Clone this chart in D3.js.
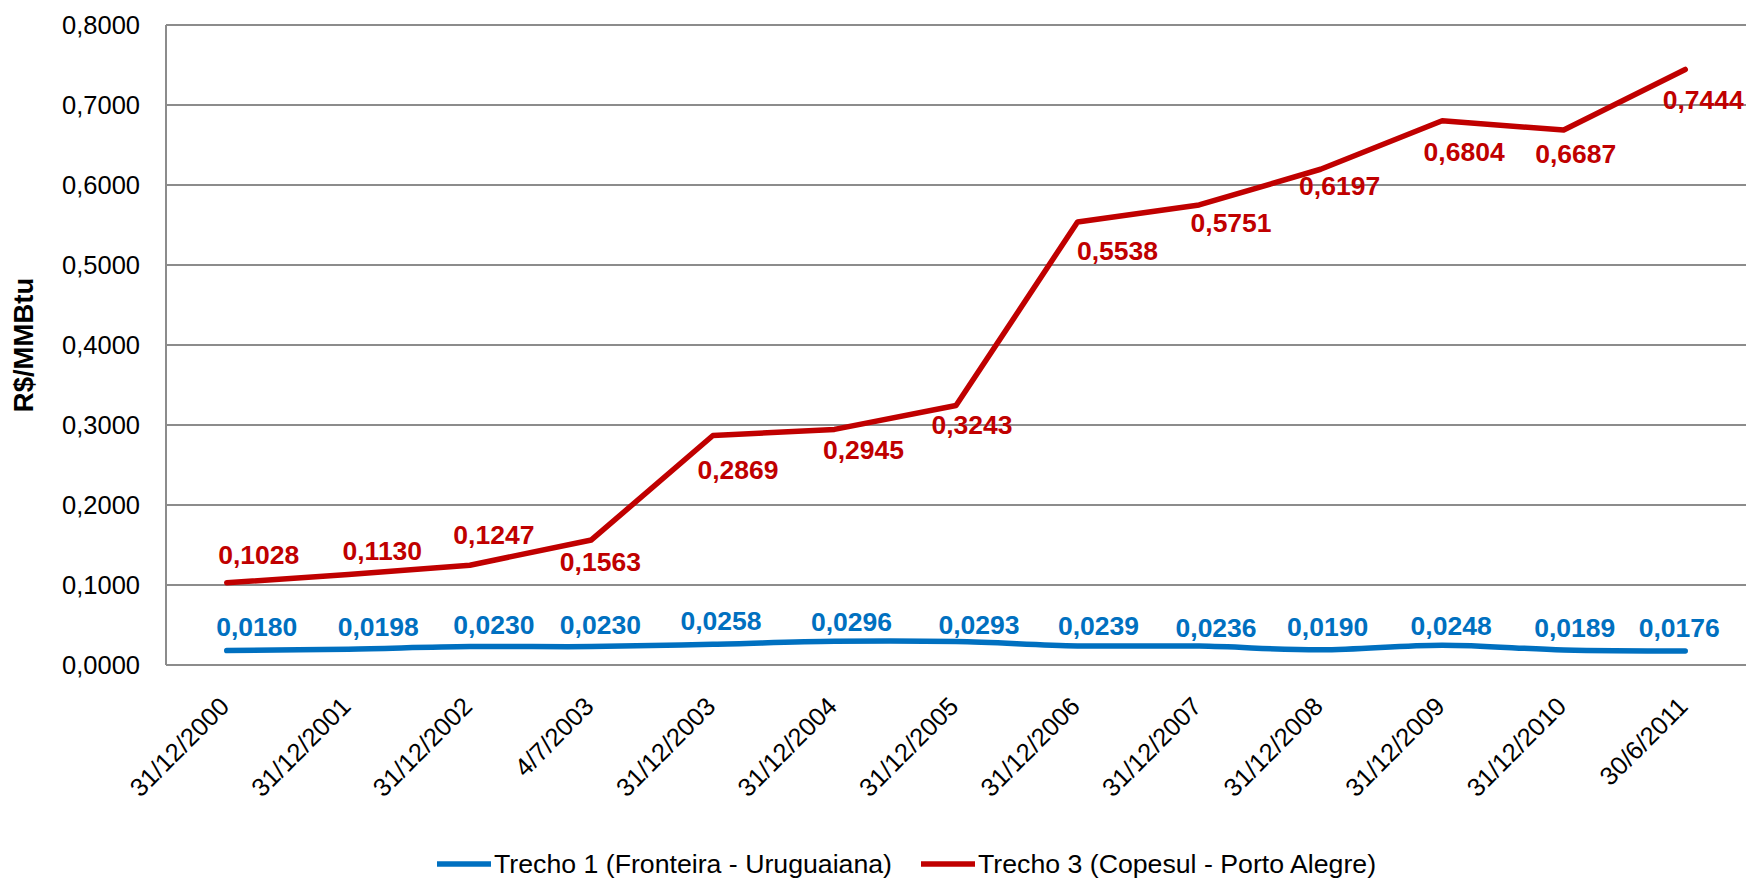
<!DOCTYPE html>
<html>
<head>
<meta charset="utf-8">
<script src="https://cdn.jsdelivr.net/npm/d3@7"></script>
<style>
  html, body { margin: 0; padding: 0; background: #fff; }
  svg { display: block; font-family: "Liberation Sans", Arial, sans-serif; }
</style>
</head>
<body>
<svg id="chart" width="1748" height="881"></svg>
<script>
// ---- data ----
const categories = ["31/12/2000","31/12/2001","31/12/2002","4/7/2003","31/12/2003","31/12/2004","31/12/2005","31/12/2006","31/12/2007","31/12/2008","31/12/2009","31/12/2010","30/6/2011"];
const trecho1 = [0.0180,0.0198,0.0230,0.0230,0.0258,0.0296,0.0293,0.0239,0.0236,0.0190,0.0248,0.0189,0.0176];
const trecho3 = [0.1028,0.1130,0.1247,0.1563,0.2869,0.2945,0.3243,0.5538,0.5751,0.6197,0.6804,0.6687,0.7444];
const yTicks = [0,0.1,0.2,0.3,0.4,0.5,0.6,0.7,0.8];
const seriesNames = ["Trecho 1 (Fronteira - Uruguaiana)","Trecho 3 (Copesul - Porto Alegre)"];
const yTitle = "R$/MMBtu";

// ---- label layout offsets (pixels, relative to point) ----
const lbl1dx = [30,30,24,9,8,17,23,21,17,7,9,11,-6];
const lbl1dy = [-15,-13,-13,-13,-14,-10,-8,-11,-9,-14,-10,-13,-14];
const lbl3dx = [32,34,24,9,25,29,16,40,32,19,22,12,18];
const lbl3dy = [-19,-15,-21,31,44,30,28,38,27,26,40,33,40];

const colors = ["#0070C0", "#C00000"];
const svg = d3.select("#chart");
const L = 166, R = 1746, T = 25, B = 665;

const x = d3.scalePoint().domain(categories).range([L, R]).padding(0.5);
const y = d3.scaleLinear().domain([0, 0.8]).range([B, T]);
const loc = d3.formatLocale({decimal: ",", thousands: ".", grouping: [3], currency: ["R$", ""]});
const fmt = loc.format(".4f");

// gridlines
svg.append("g").selectAll("line").data(yTicks).join("line")
  .attr("x1", L).attr("x2", R)
  .attr("y1", d => y(d)).attr("y2", d => y(d))
  .attr("stroke", "#8c8c8c").attr("stroke-width", 2);
// y axis line
svg.append("line").attr("x1", L).attr("x2", L).attr("y1", T).attr("y2", B)
  .attr("stroke", "#8c8c8c").attr("stroke-width", 2);

// y tick labels
svg.append("g").selectAll("text").data(yTicks).join("text")
  .attr("x", 140).attr("y", d => y(d)).attr("dy", "0.35em")
  .attr("text-anchor", "end").attr("font-size", 25.5).attr("fill", "#000")
  .text(d => fmt(d));

// y title
svg.append("text")
  .attr("transform", `translate(33,${(T + B) / 2}) rotate(-90)`)
  .attr("text-anchor", "middle").attr("font-size", 27.5).attr("font-weight", "bold")
  .text(yTitle);

// x labels
svg.append("g").selectAll("text").data(categories).join("text")
  .attr("transform", d => `translate(${x(d) + 4},708) rotate(-45)`)
  .attr("text-anchor", "end").attr("font-size", 25.5).attr("fill", "#000")
  .text(d => d);

// lines
const line1 = d3.line().x((d, i) => x(categories[i])).y(d => y(d)).curve(d3.curveCatmullRom.alpha(0.5));
const line3 = d3.line().x((d, i) => x(categories[i])).y(d => y(d));
svg.append("path").attr("d", line1(trecho1)).attr("fill", "none")
  .attr("stroke", colors[0]).attr("stroke-width", 5.5).attr("stroke-linecap", "round").attr("stroke-linejoin", "round");
svg.append("path").attr("d", line3(trecho3)).attr("fill", "none")
  .attr("stroke", colors[1]).attr("stroke-width", 5.5).attr("stroke-linecap", "round").attr("stroke-linejoin", "round");

// data labels
function labels(vals, dx, dy, color) {
  svg.append("g").selectAll("text").data(vals).join("text")
    .attr("x", (d, i) => x(categories[i]) + dx[i])
    .attr("y", (d, i) => y(d) + dy[i])
    .attr("text-anchor", "middle").attr("font-size", 26.5).attr("font-weight", "bold")
    .attr("fill", color).text(d => fmt(d));
}
labels(trecho1, lbl1dx, lbl1dy, colors[0]);
labels(trecho3, lbl3dx, lbl3dy, colors[1]);

// legend
const legend = [
  {name: seriesNames[0], color: colors[0], x: 437},
  {name: seriesNames[1], color: colors[1], x: 921}
];
const lg = svg.append("g").selectAll("g").data(legend).join("g");
lg.append("line").attr("x1", d => d.x).attr("x2", d => d.x + 54).attr("y1", 864).attr("y2", 864)
  .attr("stroke", d => d.color).attr("stroke-width", 5.5);
lg.append("text").attr("x", d => d.x + 57).attr("y", 864).attr("dy", "0.35em")
  .attr("font-size", 26.7).text(d => d.name);
</script>
</body>
</html>
